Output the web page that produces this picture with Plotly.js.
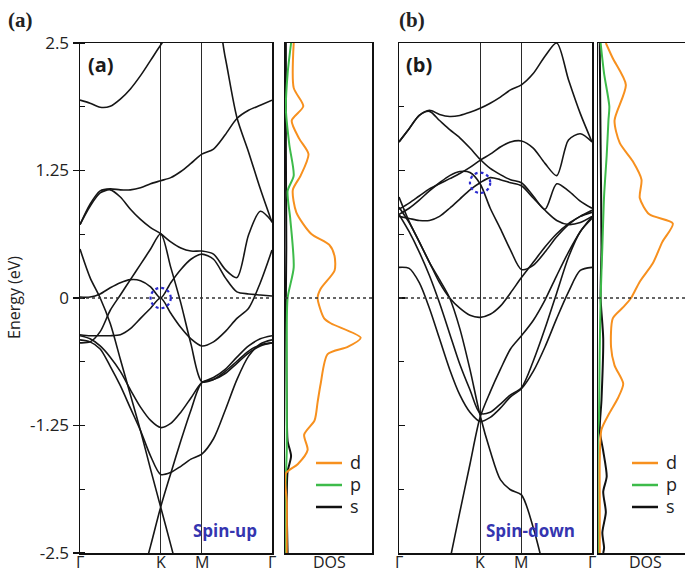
<!DOCTYPE html>
<html><head><meta charset="utf-8">
<script src="https://cdn.plot.ly/plotly-3.0.1.min.js"></script>
<style>html,body{margin:0;padding:0;background:#fff;}#chart{width:685px;height:574px;}</style>
</head><body><div id="chart"></div>
<script>
// ---------- data ----------
const kPath = [0, 0.125, 0.25, 0.375, 0.5, 0.625, 0.75, 0.875, 1, 1.125, 1.25, 1.375, 1.51, 1.655, 1.8, 1.945, 2.09, 2.235, 2.38];
const kTickVals = [0, 1, 1.51, 2.38];
const kTickText = ['Γ', 'K', 'M', 'Γ'];
const energyTickVals = [-2.5, -1.25, 0, 1.25, 2.5];
const energyTickText = ['-2.5', '-1.25', '0', '1.25', '2.5'];

// spin-up bands (panel a)
const upBand1 = [1.94,1.91,1.87,1.88,1.95,2.05,2.18,2.33,2.48,2.62,2.75,2.85,2.92,2.9,2.36,1.77,1.43,1.07,0.74];
const upBand2 = [0.72,0.92,1.05,1.07,1.06,1.06,1.08,1.12,1.15,1.18,1.24,1.32,1.41,1.46,1.6,1.76,1.84,1.89,1.94];
const upBand3 = [0.72,0.9,1.03,1.06,0.99,0.87,0.77,0.69,0.63,0.55,0.49,0.46,0.46,0.43,0.28,0.2,0.62,0.85,0.75];
const upBand4 = [0.01,0.01,0.04,0.1,0.15,0.18,0.17,0.11,0.0,0.15,0.28,0.38,0.43,0.38,0.2,0.06,0.04,0.03,0.02];
const upBand5 = [0.48,0.2,0.0,-0.25,-0.6,-0.95,-1.3,-1.68,-2.05,-2.42,-2.8,null,null,null,null,null,null,null,null];
const upBand6 = [-0.36,-0.37,-0.37,-0.37,-0.36,-0.3,-0.2,-0.1,0.0,-0.15,-0.29,-0.4,-0.47,-0.43,-0.33,-0.2,-0.1,0.15,0.47];
const upBand7 = [-0.44,-0.43,-0.33,-0.12,0.03,0.18,0.33,0.48,0.63,0.3,-0.05,-0.45,-0.82,-0.8,-0.72,-0.62,-0.52,-0.46,-0.44];
const upBand8 = [-0.37,-0.4,-0.47,-0.58,-0.72,-0.9,-1.07,-1.2,-1.27,-1.23,-1.12,-0.98,-0.83,-0.78,-0.7,-0.58,-0.47,-0.4,-0.37];
const upBand9 = [-0.41,-0.43,-0.5,-0.67,-0.86,-1.08,-1.3,-1.55,-1.73,-1.71,-1.65,-1.58,-1.53,-1.38,-1.1,-0.8,-0.57,-0.45,-0.41];
const upBand10 = [null,null,null,null,null,-3.2,-2.8,-2.43,-2.05,-1.72,-1.4,-1.1,-0.83,-0.8,-0.74,-0.64,-0.54,-0.47,-0.44];

// spin-down bands (panel b)
const dnBand1 = [1.53,1.66,1.79,1.84,1.8,1.78,1.79,1.82,1.86,1.91,1.97,2.04,2.09,2.2,2.37,2.5,2.14,1.81,1.53];
const dnBand2 = [1.53,1.66,1.79,1.83,1.74,1.65,1.57,1.47,1.36,1.27,1.21,1.16,1.13,1.0,0.87,1.12,1.05,0.95,0.88];
const dnBand3 = [0.87,0.93,1.0,1.07,1.12,1.17,1.22,1.28,1.35,1.41,1.48,1.53,1.54,1.47,1.32,1.2,1.55,1.61,1.53];
const dnBand4 = [0.8,0.78,0.76,0.76,0.8,0.88,0.97,1.06,1.13,1.18,1.16,1.13,1.1,0.98,0.86,0.76,0.72,0.74,0.8];
const dnBand5 = [0.82,0.88,0.96,1.05,1.13,1.2,1.24,1.23,1.12,0.88,0.68,0.47,0.28,0.32,0.45,0.6,0.72,0.8,0.84];
const dnBand6 = [0.89,0.74,0.55,0.35,0.15,0.0,-0.1,-0.17,-0.19,-0.16,-0.08,0.05,0.2,0.35,0.5,0.63,0.73,0.8,0.86];
const dnBand7 = [0.99,0.75,0.55,0.35,0.18,0.0,-0.3,-0.7,-1.15,-1.5,-1.78,-1.88,-1.93,-2.25,-2.7,null,null,null,null];
const dnBand8 = [0.82,0.65,0.45,0.22,-0.05,-0.35,-0.65,-0.9,-1.13,-1.12,-1.04,-0.95,-0.88,-0.62,-0.3,0.05,0.4,0.65,0.78];
const dnBand9 = [0.3,0.29,0.15,-0.1,-0.4,-0.7,-0.95,-1.12,-1.21,-1.17,-1.08,-0.97,-0.89,-0.72,-0.48,-0.2,0.06,0.27,0.3];
const dnBand10 = [null,null,null,-3.6,-3.05,-2.58,-2.1,-1.63,-1.17,-0.92,-0.7,-0.5,-0.37,-0.22,-0.02,0.22,0.45,0.65,0.8];

// DOS spin-up
const dosUpE_d = [2.5,2.06,1.88,1.74,1.56,1.41,1.2,1.06,0.84,0.63,0.52,0.41,0.27,0.09,0,-0.2,-0.25,-0.39,-0.48,-0.55,-0.84,-1.02,-1.2,-1.34,-1.49,-1.63,-1.72,-2.0,-2.5];
const dosUpV_d = [0.1,0.1,0.21,0.077,0.165,0.27,0.18,0.09,0.13,0.3,0.51,0.57,0.57,0.41,0.375,0.45,0.53,0.87,0.72,0.49,0.41,0.375,0.34,0.22,0.26,0.146,0.01,0.02,0.02];
const dosUpE_p = [2.5,2.2,1.85,1.5,1.2,1.05,0.78,0.3,0.0,-0.5,-1.0,-1.5,-1.75,-2.0,-2.5];
const dosUpV_p = [0.07,0.03,0.01,0.05,0.1,0.03,0.06,0.1,0.03,0.02,0.02,0.02,0.01,0.0,0.0];
const dosUpE_s = [2.5,1.5,0.5,0,-0.5,-1.0,-1.4,-1.55,-1.7,-2.0,-2.5];
const dosUpV_s = [0.01,0.01,0.015,0.01,0.015,0.02,0.03,0.07,0.03,0.02,0.03];

// DOS spin-down
const dosDnE_d = [2.5,2.35,2.09,1.74,1.52,1.34,1.16,0.98,0.82,0.73,0.55,0.34,0.16,0,-0.09,-0.2,-0.48,-0.66,-0.84,-0.98,-1.13,-1.29,-1.6,-2.0,-2.5];
const dosDnV_d = [0.09,0.17,0.32,0.19,0.25,0.4,0.5,0.48,0.59,0.86,0.74,0.63,0.48,0.38,0.29,0.17,0.15,0.19,0.29,0.23,0.13,0.04,0.02,0.02,0.02];
const dosDnE_p = [2.5,2.2,1.88,1.74,1.4,1.0,0.5,0,-0.5,-1.2,-1.3,-2.5];
const dosDnV_p = [0.03,0.07,0.13,0.12,0.1,0.07,0.05,0.03,0.02,0.01,0.0,0.0];
const dosDnE_s = [2.5,1.5,0.5,0,-0.4,-1.0,-1.3,-1.5,-1.75,-1.9,-2.1,-2.3,-2.45,-2.5];
const dosDnV_s = [0.02,0.03,0.04,0.03,0.06,0.04,0.02,0.06,0.1,0.06,0.09,0.05,0.07,0.06];

const orbitalNames = ['d', 'p', 's'];
const orbitalColors = ['#f7901e', '#3dbb4a', '#111111'];

// ---------- build ----------
const W = 685, H = 574;
const px = v => v / W;
const py = v => 1 - v / H;

const upBands = [upBand1, upBand2, upBand3, upBand4, upBand5, upBand6, upBand7, upBand8, upBand9, upBand10];
const dnBands = [dnBand1, dnBand2, dnBand3, dnBand4, dnBand5, dnBand6, dnBand7, dnBand8, dnBand9, dnBand10];

const traces = [];
const bandLine = {color: '#161616', width: 1.6, shape: 'spline', smoothing: 0.8};
upBands.forEach(b => traces.push({type: 'scatter', mode: 'lines', x: kPath, y: b, xaxis: 'x', yaxis: 'y', line: bandLine, connectgaps: false, showlegend: false, hoverinfo: 'skip'}));
dnBands.forEach(b => traces.push({type: 'scatter', mode: 'lines', x: kPath, y: b, xaxis: 'x3', yaxis: 'y3', line: bandLine, connectgaps: false, showlegend: false, hoverinfo: 'skip'}));

const dosUp = [[dosUpV_d, dosUpE_d], [dosUpV_p, dosUpE_p], [dosUpV_s, dosUpE_s]];
const dosDn = [[dosDnV_d, dosDnE_d], [dosDnV_p, dosDnE_p], [dosDnV_s, dosDnE_s]];
[2, 1, 0].forEach(i => {
  traces.push({type: 'scatter', mode: 'lines', x: dosUp[i][0], y: dosUp[i][1], xaxis: 'x2', yaxis: 'y2',
    line: {color: orbitalColors[i], width: 2, shape: 'spline', smoothing: 0.7}, showlegend: false, hoverinfo: 'skip'});
  traces.push({type: 'scatter', mode: 'lines', x: dosDn[i][0], y: dosDn[i][1], xaxis: 'x4', yaxis: 'y4',
    line: {color: orbitalColors[i], width: 2, shape: 'spline', smoothing: 0.7}, showlegend: false, hoverinfo: 'skip'});
});

const fontMain = 'Open Sans, Liberation Sans, sans-serif';
const yDom = [1 - 553 / H, 1 - 43 / H];

function bandX(dom) {
  return {domain: dom, range: [0, 2.38], tickmode: 'array', tickvals: kTickVals, ticktext: kTickText,
    showticklabels: false,
    showgrid: true, gridcolor: '#2a2a2a', gridwidth: 1, zeroline: false, showline: true, linecolor: '#111',
    linewidth: 1.5, mirror: true, ticks: '', fixedrange: true};
}
function bandY(anchor, labels) {
  return {domain: yDom, range: [-2.5, 2.5], anchor: anchor, tickmode: 'array', tickvals: energyTickVals, ticktext: energyTickText,
    showticklabels: labels, ticks: labels ? 'outside' : 'inside', ticklen: 6, tickcolor: '#111', tickwidth: 1.3,
    minor: {dtick: 0.625, tick0: 0, ticks: 'inside', ticklen: 5, tickcolor: '#111', tickwidth: 1.2},
    showgrid: false, zeroline: false, showline: true, linecolor: '#111', linewidth: 1.5, mirror: true,
    tickfont: {family: fontMain, size: 17, color: '#222'}, fixedrange: true};
}
function dosX(dom, anchor) {
  return {domain: dom, range: [0, 1], anchor: anchor, showticklabels: false, ticks: '', showgrid: false, zeroline: false,
    showline: true, linecolor: '#111', linewidth: 1.5, mirror: true, fixedrange: true};
}
function dosY(anchor, mirror) {
  return {domain: yDom, range: [-2.5, 2.5], anchor: anchor, showticklabels: false, ticks: '', showgrid: false, zeroline: false,
    showline: true, linecolor: '#111', linewidth: 1.5, mirror: mirror, fixedrange: true};
}

const shapes = [];
['x', 'x2', 'x3', 'x4'].forEach((xa, i) => {
  const ya = ['y', 'y2', 'y3', 'y4'][i];
  shapes.push({type: 'line', xref: xa + ' domain', yref: ya, x0: 0, x1: 1, y0: 0, y1: 0, line: {color: '#333', width: 1.4, dash: 'dot'}});
});
// highlight circles at K
shapes.push({type: 'circle', xref: 'x', yref: 'y', x0: 0.875, x1: 1.125, y0: -0.1, y1: 0.1, line: {color: '#2b2bd0', width: 2.2, dash: 'dot'}});
shapes.push({type: 'circle', xref: 'x3', yref: 'y3', x0: 0.875, x1: 1.125, y0: 1.03, y1: 1.23, line: {color: '#2b2bd0', width: 2.2, dash: 'dot'}});

// legend samples
const legendRows = [463, 485, 507];
[[316, 342, 346], [632, 658, 662]].forEach(([a, b, t]) => {
  orbitalNames.forEach((n, i) => {
    shapes.push({type: 'line', xref: 'paper', yref: 'paper', x0: px(a), x1: px(b), y0: py(legendRows[i]), y1: py(legendRows[i]),
      line: {color: orbitalColors[i], width: 2.5}});
  });
});

const annotations = [];
function ann(text, x, y, opt) {
  annotations.push(Object.assign({text: text, xref: 'paper', yref: 'paper', x: px(x), y: py(y), showarrow: false,
    xanchor: 'center', yanchor: 'middle', font: {family: fontMain, size: 16, color: '#222'}}, opt || {}));
}
// k-path labels under both band panels (placed on the data axis)
['x', 'x3'].forEach(xa => kTickVals.forEach((kv, i) => annotations.push({
  text: kTickText[i], xref: xa, yref: 'paper', x: kv, y: py(562), showarrow: false, xanchor: 'center', yanchor: 'middle',
  font: {family: fontMain, size: 16, color: '#222'}})));
ann('<b>(a)</b>', 6, 20, {xanchor: 'left', font: {family: 'Liberation Serif, DejaVu Serif, serif', size: 21, color: '#222'}});
ann('<b>(b)</b>', 397, 20, {xanchor: 'left', font: {family: 'Liberation Serif, DejaVu Serif, serif', size: 21, color: '#222'}});
ann('<b>(a)</b>', 86, 65, {xanchor: 'left', font: {family: fontMain, size: 20, color: '#1a1a1a'}});
ann('<b>(b)</b>', 404, 65, {xanchor: 'left', font: {family: fontMain, size: 20, color: '#1a1a1a'}});
ann('Energy (eV)', 14, 298, {textangle: -90, font: {family: fontMain, size: 16, color: '#222'}});
ann('<b>Spin-up</b>', 225, 530, {font: {family: fontMain, size: 17, color: '#3535b0'}});
ann('<b>Spin-down</b>', 530, 530, {font: {family: fontMain, size: 17, color: '#3535b0'}});
ann('DOS', 329, 562, {font: {family: fontMain, size: 16, color: '#222'}});
ann('DOS', 645, 562, {font: {family: fontMain, size: 16, color: '#222'}});
[346, 662].forEach(t => orbitalNames.forEach((n, i) => ann(n, t + 2, legendRows[i] - 1, {xanchor: 'left', font: {family: fontMain, size: 18, color: '#222'}})));

const layout = {
  width: W, height: H, margin: {l: 0, r: 0, t: 0, b: 0}, paper_bgcolor: '#fff', plot_bgcolor: '#fff', showlegend: false,
  xaxis: Object.assign(bandX([80 / W, 272 / W]), {anchor: 'y'}),
  yaxis: bandY('x', true),
  xaxis2: dosX([285 / W, 372 / W], 'y2'),
  yaxis2: dosY('x2', true),
  xaxis3: Object.assign(bandX([399 / W, 592 / W]), {anchor: 'y3'}),
  yaxis3: bandY('x3', false),
  xaxis4: dosX([598 / W, 1], 'y4'),
  yaxis4: dosY('x4', false),
  shapes: shapes, annotations: annotations
};

Plotly.newPlot('chart', traces, layout, {staticPlot: true, displayModeBar: false});
</script>
</body></html>
